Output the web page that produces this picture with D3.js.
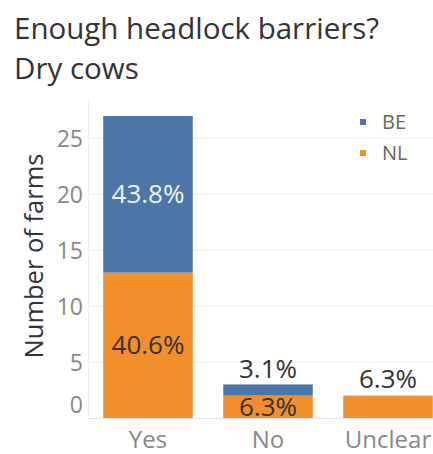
<!DOCTYPE html>
<html>
<head>
<meta charset="utf-8">
<script src="https://cdn.jsdelivr.net/npm/d3@7"></script>
<style>
  html, body { margin: 0; padding: 0; background: #fff; }
  svg { display: block; }
  text { font-family: "Open Sans", "Noto Sans", sans-serif; }
</style>
</head>
<body>
<svg id="chart" width="433" height="454"></svg>
<script>
// Answers per category, number of farms by country
const categories = ["Yes", "No", "Unclear"];
const seriesNames = ["NL", "BE"];
const nlValues = [13, 2, 2];
const beValues = [14, 1, 0];
const nlLabels = ["40.6%", "6.3%", "6.3%"];
const beLabels = ["43.8%", "3.1%", ""];
const yTicks = [0, 5, 10, 15, 20, 25];

const colors = { BE: "#4a77a8", NL: "#f28e2b" };

const svg = d3.select("#chart");
const W = 433, H = 454;

const x = d3.scaleBand().domain(categories).range([88, 448])
  .paddingInner(0.254).paddingOuter(0.127);
const y = d3.scaleLinear().domain([0, 27]).range([418, 116]);

// Titles
svg.append("text").attr("x", 14).attr("y", 39)
  .attr("font-size", 29.5).attr("fill", "#333").text("Enough headlock barriers?");
svg.append("text").attr("x", 14).attr("y", 79)
  .attr("font-size", 29.5).attr("fill", "#333").text("Dry cows");

// Gridlines
svg.append("g").selectAll("line").data(yTicks.slice(1)).join("line")
  .attr("x1", 88).attr("x2", W)
  .attr("y1", d => Math.round(y(d)) + 0.5).attr("y2", d => Math.round(y(d)) + 0.5)
  .attr("stroke", "#f0f0f0").attr("stroke-width", 1);
svg.append("line").attr("x1", 88).attr("x2", W)
  .attr("y1", 418.5).attr("y2", 418.5).attr("stroke", "#e6e6e6");
svg.append("line").attr("x1", 88.5).attr("x2", 88.5)
  .attr("y1", 100).attr("y2", 418).attr("stroke", "#f0f0f0");

// Stacked bars
const table = categories.map((c, i) => ({ cat: c, NL: nlValues[i], BE: beValues[i] }));
const stack = d3.stack().keys(seriesNames)(table);
svg.append("g").selectAll("g").data(stack).join("g")
  .attr("fill", d => colors[d.key])
  .selectAll("rect").data(d => d).join("rect")
  .attr("x", d => x(d.data.cat))
  .attr("width", x.bandwidth())
  .attr("y", d => y(d[1]))
  .attr("height", d => y(d[0]) - y(d[1]));

// Y axis tick labels
const yAxis = svg.append("g").attr("transform", "translate(83,0)")
  .call(d3.axisLeft(y).tickValues(yTicks).tickSize(0).tickPadding(0));
yAxis.select(".domain").remove();
yAxis.selectAll("text").attr("font-size", 23).attr("fill", "#888")
  .attr("font-family", "Open Sans, sans-serif")
  .attr("dy", d => d === 0 ? "-0.22em" : "0.36em");

svg.append("text")
  .attr("transform", "translate(43,256) rotate(-90)")
  .attr("text-anchor", "middle").attr("font-size", 25.5).attr("fill", "#333")
  .text("Number of farms");

// Category labels
svg.append("g").selectAll("text").data(categories).join("text")
  .attr("x", d => x(d) + x.bandwidth() / 2).attr("y", 448)
  .attr("text-anchor", "middle").attr("font-size", 24).attr("fill", "#888")
  .text(d => d);

// Value labels
const labelSize = 26;
categories.forEach((c, i) => {
  const cx = x(c) + x.bandwidth() / 2;
  const nlTop = y(nlValues[i]);
  const beTop = y(nlValues[i] + beValues[i]);
  if (i === 0) {
    svg.append("text").attr("x", cx).attr("y", (nlTop + y(0)) / 2)
      .attr("dy", "0.35em").attr("text-anchor", "middle")
      .attr("font-size", labelSize).attr("fill", "#333").text(nlLabels[i]);
    svg.append("text").attr("x", cx).attr("y", (beTop + nlTop) / 2)
      .attr("dy", "0.35em").attr("text-anchor", "middle")
      .attr("font-size", labelSize).attr("fill", "#eef2f7").text(beLabels[i]);
  } else if (beValues[i] > 0) {
    svg.append("text").attr("x", cx).attr("y", (nlTop + y(0)) / 2)
      .attr("dy", "0.35em").attr("text-anchor", "middle")
      .attr("font-size", labelSize).attr("fill", "#333").text(nlLabels[i]);
    svg.append("text").attr("x", cx).attr("y", beTop - 6)
      .attr("text-anchor", "middle")
      .attr("font-size", labelSize).attr("fill", "#333").text(beLabels[i]);
  } else {
    svg.append("text").attr("x", cx).attr("y", nlTop - 8)
      .attr("text-anchor", "middle")
      .attr("font-size", labelSize).attr("fill", "#333").text(nlLabels[i]);
  }
});

// Legend
const legend = svg.append("g").selectAll("g").data(["BE", "NL"]).join("g")
  .attr("transform", (d, i) => `translate(360,${119 + i * 31})`);
legend.append("rect").attr("width", 6).attr("height", 6).attr("fill", d => colors[d]);
legend.append("text").attr("x", 22).attr("y", 3).attr("dy", "0.35em")
  .attr("font-size", 20).attr("fill", "#666").text(d => d);
</script>
</body>
</html>
